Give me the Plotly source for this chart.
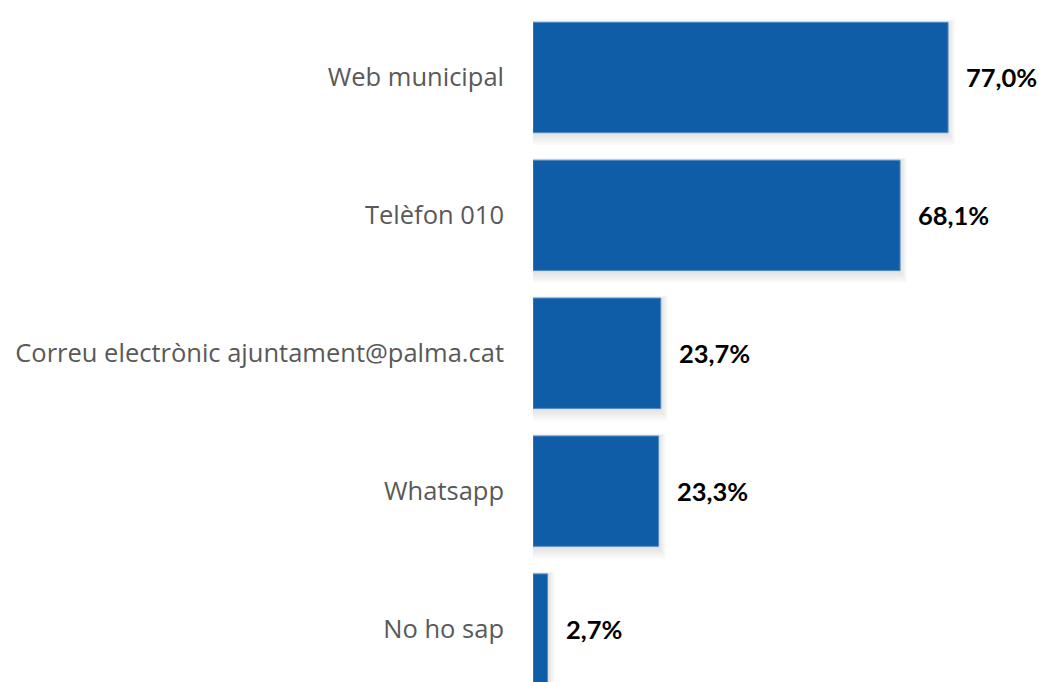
import plotly.graph_objects as go

# Canals de contacte amb l'Ajuntament (% de respostes)
categories = [
    "Web municipal",
    "Telèfon 010",
    "Correu electrònic ajuntament@palma.cat",
    "Whatsapp",
    "No ho sap",
]
values = [77.0, 68.1, 23.7, 23.3, 2.7]
value_labels = [f"{v:.1f}%".replace(".", ",") for v in values]

BAR_COLOR = "#0F5DA6"
BAR_WIDTH = 0.8

fig = go.Figure()

# soft drop shadow built from stacked translucent copies of the bars
for k in range(1, 7):
    fig.add_trace(go.Bar(
        y=categories,
        x=[v + 0.22 * k for v in values],
        orientation="h",
        width=BAR_WIDTH + 0.018 * k,
        offset=-(BAR_WIDTH + 0.018 * k) / 2 + 0.006 * k,
        marker=dict(color="rgba(0,0,0,0.02)", line=dict(width=0)),
        hoverinfo="skip",
        showlegend=False,
    ))

fig.add_trace(go.Bar(
    y=categories,
    x=values,
    orientation="h",
    width=BAR_WIDTH,
    marker=dict(color=BAR_COLOR, line=dict(color="#4F8AC4", width=1)),
    showlegend=False,
))

for cat, v, lab in zip(categories, values, value_labels):
    fig.add_annotation(
        x=v, y=cat, text=f"<b>{lab}</b>",
        xanchor="left", yanchor="middle", xshift=16,
        showarrow=False,
        font=dict(family="Lato", size=25.5, color="#000000"),
    )

fig.update_layout(
    width=1039, height=682,
    margin=dict(l=533, r=0, t=0, b=0),
    paper_bgcolor="white", plot_bgcolor="white",
    barmode="overlay",
    bargap=0.2,
    xaxis=dict(range=[0, 93.88], visible=False, fixedrange=True),
    yaxis=dict(
        type="category",
        range=[4.384, -0.562],
        showgrid=False, zeroline=False, showline=False,
        ticks="", ticklabelstandoff=28,
        tickfont=dict(family="Open Sans", size=25.5, color="#595959"),
    ),
)

fig.write_html("out.html")
